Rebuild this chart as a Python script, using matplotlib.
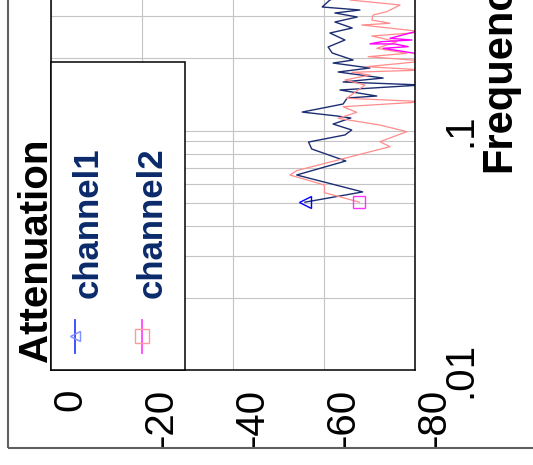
import matplotlib.pyplot as plt
from matplotlib.lines import Line2D
from matplotlib.patches import Rectangle
from matplotlib.ticker import FixedLocator, FixedFormatter, LogLocator, NullFormatter

plt.rcParams['font.family'] = ['Liberation Sans', 'DejaVu Sans']

# channel1: frequency / attenuation [dB]
freq_ch1 = [0.0502, 0.0554, 0.0652, 0.0746, 0.0837, 0.0895, 0.0958, 0.1005, 0.1064, 0.1128,
            0.1150, 0.1194, 0.1290, 0.1367, 0.1393, 0.1476, 0.1549, 0.1594, 0.1656, 0.1755,
            0.1824, 0.1913, 0.1969, 0.2107, 0.2232, 0.2387, 0.2553, 0.2679, 0.2838, 0.2978,
            0.3095, 0.3185, 0.3279, 0.3507, 0.3700, 0.3900]
att_ch1 = [-55.8, -68.5, -54.0, -64.8, -57.3, -56.6, -64.6, -66.1, -62.0, -65.9,
           -62.8, -55.2, -64.2, -65.1, -71.6, -63.5, -81.5, -64.2, -73.0, -63.1,
           -70.1, -62.0, -66.4, -61.8, -60.9, -64.6, -61.3, -66.2, -62.4, -67.3,
           -62.4, -67.9, -59.6, -61.3, -65.0, -62.0]

# channel2
freq_ch2 = [0.0502, 0.0550, 0.0592, 0.0652, 0.0680, 0.0856, 0.0898, 0.0989, 0.1054, 0.1124,
            0.1191, 0.1257, 0.1319, 0.1363, 0.1549, 0.1625, 0.1705, 0.1750, 0.1789, 0.1847,
            0.1950, 0.2033, 0.2100, 0.2204, 0.2349, 0.2481, 0.2578, 0.2757, 0.2803, 0.2893,
            0.3036, 0.3134, 0.3342, 0.3507, 0.3700, 0.3900]
att_ch2 = [-67.8, -60.1, -60.1, -52.5, -54.0, -74.5, -72.3, -78.2, -72.3, -63.1,
           -67.2, -64.2, -82.2, -65.0, -69.0, -64.6, -70.1, -66.1, -82.2, -69.4,
           -82.2, -69.7, -78.2, -71.6, -76.0, -70.5, -82.2, -68.3, -74.5, -70.5,
           -70.8, -73.8, -76.7, -65.7, -70.0, -66.0]

# channel2, highlighted stretch
freq_ch2_hi = [0.2100, 0.2204, 0.2239, 0.2297, 0.2300, 0.2349, 0.2387, 0.2426, 0.2585]
att_ch2_hi = [-80.0, -73.0, -78.5, -75.6, -70.1, -72.7, -79.3, -74.5, -80.0]

att_ticks = [0, -20, -40, -60, -80]
att_labels = ['0', '-20', '-40', '-60', '-80']
freq_ticks = [0.01, 0.1]
freq_labels = ['.01', '.1']
names = ['channel1', 'channel2']

W, H = 533, 465
fig = plt.figure(figsize=(W / 100, H / 100), dpi=100)


def fx(x):
    return x / W


def fy(y):
    return 1 - y / H


# plot lies on its side: attenuation left->right, frequency bottom->top
ax = fig.add_axes([fx(51), fy(370), fx(415) - fx(51), fy(-109) - fy(370)])
ax.set_xlim(0, -80)
ax.set_yscale('log')
ax.set_ylim(0.01, 1)

ax.plot(att_ch1, freq_ch1, color='#1c2e72', lw=1.0)
ax.plot(att_ch2, freq_ch2, color='#ff8c8c', lw=0.9)
ax.plot(att_ch2_hi, freq_ch2_hi, color='#ff00ff', lw=1.0)
ax.plot(att_ch1[:1], freq_ch1[:1], ls='none', marker='<', ms=9, mfc='none', mec='#0000ff', mew=1.0)
ax.plot(att_ch2[:1], freq_ch2[:1], ls='none', marker='s', ms=9, mfc='none', mec='#ff33ff', mew=1.0)

ax.xaxis.set_major_locator(FixedLocator(att_ticks))
ax.xaxis.set_major_formatter(FixedFormatter(att_labels))
ax.yaxis.tick_right()
ax.yaxis.set_major_locator(FixedLocator(freq_ticks))
ax.yaxis.set_major_formatter(FixedFormatter(freq_labels))
ax.yaxis.set_minor_locator(LogLocator(base=10, subs=range(2, 10)))
ax.yaxis.set_minor_formatter(NullFormatter())

ax.tick_params(axis='both', which='both', length=0)
ax.tick_params(axis='x', pad=13.5, labelsize=29, labelrotation=90)
ax.tick_params(axis='y', pad=19, labelsize=29, labelrotation=90)
plt.setp(ax.get_xticklabels(), ha='left', va='top')
plt.setp(ax.get_yticklabels(), ha='left', va='center')

ax.grid(True, which='both', color='#c4c4c4', lw=0.8)
ax.set_axisbelow(True)
for side in ['left', 'bottom', 'right']:
    ax.spines[side].set_linewidth(1.1)
    ax.spines[side].set_color('black')

# outer frame
fig.add_artist(Rectangle((fx(7.5), fy(447.5)), 2, 2, transform=fig.transFigure,
                         fill=False, edgecolor='#606060', lw=1.5))

# legend box
fig.add_artist(Rectangle((fx(51), fy(370)), fx(185) - fx(51), fy(62) - fy(370),
                         transform=fig.transFigure, facecolor='white', edgecolor='black', lw=1.1))
fig.add_artist(Line2D([fx(75), fx(75)], [fy(353), fy(320)], transform=fig.transFigure,
                      color='#3344ff', lw=1.3))
fig.add_artist(Line2D([fx(75)], [fy(336)], transform=fig.transFigure, ls='none',
                      marker='<', ms=6.5, mfc='none', mec='#7f8fff', mew=1.0))
fig.add_artist(Line2D([fx(142), fx(142)], [fy(353), fy(320)], transform=fig.transFigure,
                      color='#ff44ff', lw=1.3))
fig.add_artist(Line2D([fx(142)], [fy(336)], transform=fig.transFigure, ls='none',
                      marker='s', ms=9.5, mfc='none', mec='#ff9a9a', mew=1.0))

for name, bx in zip(names, [98, 162]):
    fig.text(fx(bx), fy(298), name, rotation=90, rotation_mode='anchor', ha='left',
             va='baseline', fontsize=25, fontweight='bold', color='#0b2a6b')

fig.text(fx(47), fy(362), 'Attenuation', rotation=90, rotation_mode='anchor',
         ha='left', va='baseline', fontsize=29, fontweight='bold')
fig.text(fx(510), fy(172), 'Frequency', rotation=90, rotation_mode='anchor',
         ha='left', va='baseline', fontsize=30, fontweight='bold')

fig.savefig('out.png', dpi=100)
